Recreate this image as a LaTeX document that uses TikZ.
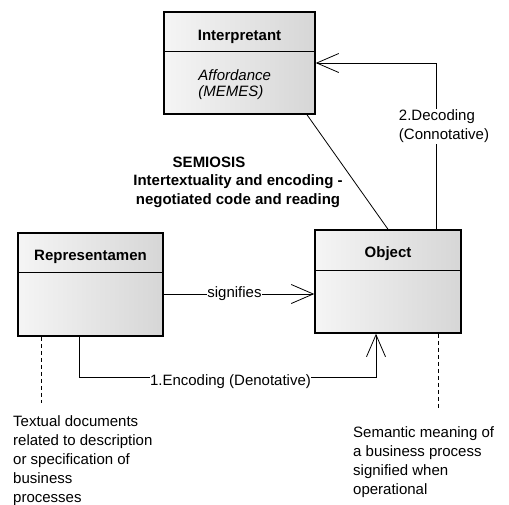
\documentclass[tikz,border=0pt]{standalone}
\usepackage{fontspec}
\setmainfont{Liberation Sans}
\usetikzlibrary{positioning, calc, arrows.meta}

\begin{document}
\begin{tikzpicture}[x=1pt, y=-1pt,
		every node/.style={font=\fontsize{15}{19}\selectfont},
		cls/.style={draw=black, line width=1.5pt, left color=black!4, middle color=black!6, right color=black!16, inner sep=0pt},
		title/.style={font=\bfseries\fontsize{15}{19}\selectfont, inner sep=0pt, anchor=base},
		assoc/.style={line width=0.8pt, -{Straight Barb[length=22pt, width=19pt, line width=0.8pt]}},
		link/.style={line width=0.8pt},
		lbl/.style={fill=white, inner sep=1pt},
		notelink/.style={line width=0.8pt, dash pattern=on 4pt off 3pt},
		note/.style={anchor=north west, align=left, inner sep=0pt}]
			\useasboundingbox (0,0) rectangle (509,504);
			
			% classes
			\node[cls, minimum width=151pt, minimum height=102pt] (interp) at (239.5,63) {};
			\node[cls, minimum width=145pt, minimum height=103pt] (repr) at (90.5,284.5) {};
			\node[cls, minimum width=146pt, minimum height=103pt] (obj) at (388,281.5) {};
			
			\draw[line width=1.5pt] ($ (interp.north west)+(0,40) $) -- ($ (interp.north east)+(0,40) $);
			\draw[line width=1.5pt] ($ (repr.north west)+(0,40) $) -- ($ (repr.north east)+(0,40) $);
			\draw[line width=1.5pt] ($ (obj.north west)+(0,41) $) -- ($ (obj.north east)+(0,41) $);
			
			\node[title] (interp-t) at ($ (interp.north)+(0,29) $) {Interpretant};
			\node[title] (repr-t) at ($ (repr.north)+(0,28) $) {Representamen};
			\node[title] (obj-t) at ($ (obj.north)+(0,28) $) {Object};
			
			\node[note, font=\itshape\fontsize{15}{16}\selectfont] (interp-a) at ($ (interp.north west)+(35,58) $) {Affordance\\(MEMES)};
			
			% semiosis
			\node[font=\bfseries\fontsize{15}{18.5}\selectfont, align=center, inner sep=0pt] (semiosis) at (238,182) {SEMIOSIS\hspace*{58pt}\\Intertextuality and encoding -\\negotiated code and reading};
			
			% connectors
			\draw[link] ($ (interp.south)+(67.5,0) $) -- (obj.north);
			\draw[assoc] ($ (obj.north)+(48,0) $) |- node[lbl, pos=0.31, xshift=8pt, align=left] (dec) {2.Decoding\\(Connotative)} (interp.east);
			
			\coordinate (sig) at (0,294);
			\draw[assoc] (repr.east |- sig) -- node[lbl, pos=0.47, inner sep=0pt] (sig-l) {signifies} (obj.west |- sig);
			
			\coordinate (enc) at (0,377);
			\draw[assoc] ($ (repr.south)+(-11.5,0) $) -- ($ (repr.south |- enc)+(-11.5,0) $) -- node[lbl, pos=0.51, yshift=-5pt, inner sep=0pt] (enc-l) {1.Encoding (Denotative)} ($ (obj.south |- enc)+(-12,0) $) -- ($ (obj.south)+(-12,0) $);
			
			% notes
			\coordinate (repr-n) at (41,403);
			\coordinate (obj-n) at (438,410);
			\draw[notelink] (repr.south -| repr-n) -- (repr-n);
			\draw[notelink] (obj.south -| obj-n) -- (obj-n);
			
			\node[note] (repr-note) at (13,415) {Textual documents\\related to description\\or specification of\\business\\processes};
			\node[note] (obj-note) at (353,426) {Semantic meaning of\\a business process\\signified when\\operational};
		\end{tikzpicture}
\end{document}
